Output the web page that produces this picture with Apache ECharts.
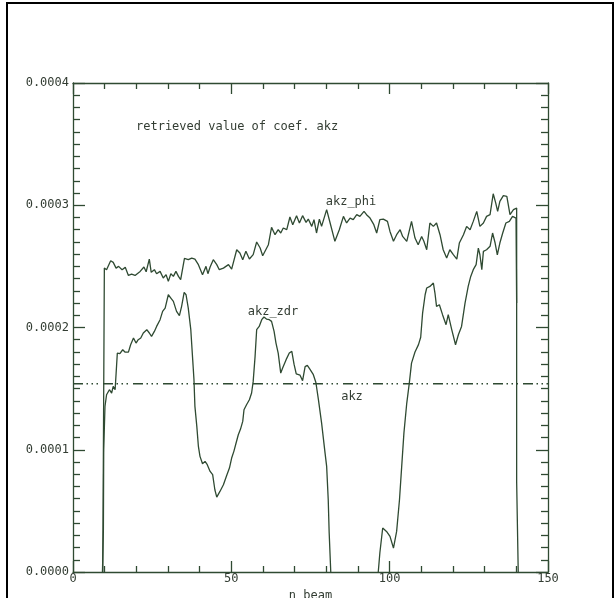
<!DOCTYPE html>
<html>
<head>
<meta charset="utf-8">
<script src="https://cdn.jsdelivr.net/npm/echarts@6/dist/echarts.min.js"></script>
<style>html,body{margin:0;padding:0;background:#fff}#c{width:615px;height:598px}</style>
</head>
<body>
<div id="c"></div>
<script>
// values in units of 1e-4
const SCALE = 1e-4;
const xTicks = [0, 50, 100, 150];
const yTicks = [0, 0.0001, 0.0002, 0.0003, 0.0004];

const phiBeam = [9.4,9.9,10.6,11.9,12.7,13.6,14.4,15.5,16.5,17.5,18.5,19.6,21.2,22.4,23.1,24.1,24.7,25.7,26.4,27.5,28.5,29.4,30.1,30.9,31.7,32.5,33.3,34.0,35.2,36.4,37.5,38.5,39.6,40.9,42.0,42.6,43.3,44.3,45.4,46.2,47.5,49.1,50.1,51.7,52.7,53.6,54.6,55.7,56.9,58.0,59.1,59.9,61.7,62.7,63.8,64.8,65.6,66.4,67.5,68.5,69.4,70.6,71.5,72.5,73.6,74.3,75.4,76.1,76.9,77.8,78.5,80.1,81.2,82.7,84.1,85.4,86.4,87.5,88.5,89.6,90.6,91.9,92.7,93.8,95.0,95.9,96.9,98.0,99.3,100.1,101.2,102.2,103.3,104.1,105.4,106.9,108.0,109.0,110.1,110.8,111.7,112.7,113.8,114.8,115.9,116.9,118.0,119.0,120.1,121.2,122.0,123.3,124.3,125.4,126.4,127.5,128.5,129.6,130.6,131.7,132.7,133.5,134.1,134.8,135.9,137.0,138.0,139.1,140.1,140.1,140.6];
const phiVal = [0,2.486,2.473,2.546,2.533,2.486,2.500,2.473,2.492,2.426,2.437,2.426,2.459,2.495,2.456,2.560,2.451,2.473,2.440,2.459,2.405,2.432,2.377,2.440,2.418,2.459,2.418,2.391,2.565,2.555,2.568,2.560,2.514,2.432,2.500,2.440,2.495,2.555,2.514,2.473,2.486,2.514,2.478,2.636,2.609,2.555,2.623,2.560,2.596,2.699,2.650,2.587,2.677,2.819,2.759,2.800,2.773,2.814,2.800,2.904,2.841,2.915,2.855,2.915,2.860,2.887,2.827,2.882,2.773,2.887,2.827,2.964,2.855,2.705,2.800,2.909,2.855,2.895,2.882,2.923,2.909,2.950,2.923,2.895,2.841,2.773,2.882,2.887,2.868,2.786,2.705,2.759,2.800,2.745,2.705,2.868,2.732,2.677,2.745,2.705,2.636,2.855,2.827,2.855,2.759,2.636,2.568,2.636,2.596,2.560,2.691,2.759,2.827,2.800,2.868,2.950,2.827,2.855,2.909,2.923,3.094,3.018,2.950,3.032,3.078,3.073,2.923,2.964,2.977,0.74,0];

const zdrBeam = [9.3,9.6,9.7,10.1,10.6,11.5,12.2,12.7,13.3,14.0,14.8,15.7,16.4,17.5,18.2,19.1,19.9,20.6,21.4,22.2,23.3,24.1,24.8,25.7,26.4,27.5,28.3,29.1,30.1,30.9,31.7,32.7,33.6,34.3,35.1,35.7,36.4,37.2,37.8,38.2,38.5,39.1,39.6,40.1,40.9,41.7,42.4,43.3,44.1,44.8,45.4,46.4,47.5,48.5,49.4,50.1,50.8,51.5,52.2,52.9,53.6,54.0,54.8,55.7,56.4,56.9,57.5,58.0,58.8,59.6,60.3,61.1,62.0,62.7,63.5,64.1,64.8,65.6,66.2,67.3,68.3,69.1,69.8,70.5,71.7,72.5,73.3,74.0,74.8,75.9,76.7,77.5,78.5,79.6,80.1,80.6,80.9,81.4,88.0,96.4,96.9,97.8,99.0,100.1,101.2,102.2,103.1,103.8,104.5,105.4,106.2,106.9,108.0,109.1,109.8,110.4,111.2,111.7,112.7,113.8,114.3,114.8,115.7,116.7,117.8,118.5,119.6,120.8,121.7,122.7,123.8,124.8,125.6,126.4,127.3,128.0,128.5,129.1,129.6,130.6,131.7,132.5,133.3,134.0,134.8,135.7,136.7,137.8,138.8,139.9,140.1];
const zdrVal = [0,0.35,1.0,1.355,1.45,1.491,1.464,1.518,1.491,1.791,1.786,1.818,1.799,1.799,1.859,1.914,1.873,1.900,1.914,1.955,1.982,1.955,1.927,1.968,2.009,2.064,2.132,2.159,2.268,2.241,2.214,2.132,2.097,2.173,2.287,2.268,2.159,1.982,1.737,1.573,1.355,1.191,1.027,0.946,0.886,0.905,0.878,0.823,0.796,0.673,0.613,0.659,0.714,0.788,0.850,0.932,0.987,1.055,1.123,1.169,1.232,1.327,1.368,1.409,1.464,1.559,1.764,1.982,2.009,2.064,2.086,2.069,2.064,2.050,1.968,1.873,1.791,1.627,1.668,1.737,1.791,1.805,1.70,1.62,1.61,1.565,1.68,1.69,1.66,1.614,1.55,1.41,1.22,0.973,0.864,0.591,0.319,0,null,0,0.155,0.36,0.332,0.291,0.196,0.332,0.591,0.864,1.136,1.382,1.545,1.709,1.80,1.86,1.92,2.118,2.268,2.323,2.336,2.364,2.282,2.173,2.186,2.105,2.023,2.105,1.982,1.859,1.941,2.009,2.200,2.336,2.418,2.473,2.514,2.650,2.595,2.473,2.623,2.636,2.664,2.773,2.691,2.595,2.691,2.773,2.855,2.868,2.909,2.895,2.2];

const akzRange = [0, 150];
const akzVal = 1.54;

const LINE = '#2f4a32';
const TEXT = '#333d33';
const FONT = '"DejaVu Sans Mono", monospace';

function pairs(xs, ys) {
  return xs.map((x, i) => [x, ys[i] === null ? null : ys[i] * SCALE]);
}

const chart = echarts.init(document.getElementById('c'), null, {renderer: 'canvas'});

const axisCommon = {
  type: 'value',
  axisLine: {show: true, onZero: false, lineStyle: {color: LINE, width: 1.3}},
  splitLine: {show: false},
};

chart.setOption({
  animation: false,
  backgroundColor: '#fff',
  grid: {left: 73, top: 83, width: 475, height: 489, containLabel: false, outerBoundsMode: 'none'},
  xAxis: [
    Object.assign({}, axisCommon, {
      position: 'bottom', min: xTicks[0], max: xTicks[xTicks.length - 1], interval: 50,
      axisTick: {show: true, inside: true, length: 11, lineStyle: {color: LINE, width: 1.3}},
      minorTick: {show: true, splitNumber: 5, length: 6, lineStyle: {color: LINE, width: 1.3}},
      axisLabel: {show: true, margin: 1, color: TEXT, fontFamily: FONT, fontSize: 12},
      name: 'n beam', nameLocation: 'middle', nameGap: 10,
      nameTextStyle: {color: TEXT, fontFamily: FONT, fontSize: 12}
    }),
    Object.assign({}, axisCommon, {
      position: 'top', min: 0, max: 150, interval: 50,
      axisTick: {show: true, inside: true, length: 11, lineStyle: {color: LINE, width: 1.3}},
      minorTick: {show: true, splitNumber: 5, length: 6, lineStyle: {color: LINE, width: 1.3}},
      axisLabel: {show: false}
    })
  ],
  yAxis: [
    Object.assign({}, axisCommon, {
      position: 'left', min: yTicks[0], max: yTicks[yTicks.length - 1], interval: 0.0001,
      axisTick: {show: true, inside: true, length: 12, lineStyle: {color: LINE, width: 1.3}},
      minorTick: {show: true, splitNumber: 10, length: 7, lineStyle: {color: LINE, width: 1.3}},
      axisLabel: {show: true, margin: 4, color: TEXT, fontFamily: FONT, fontSize: 12,
        formatter: v => v.toFixed(4)}
    }),
    Object.assign({}, axisCommon, {
      position: 'right', min: 0, max: 0.0004, interval: 0.0001,
      axisTick: {show: true, inside: true, length: 12, lineStyle: {color: LINE, width: 1.3}},
      minorTick: {show: true, splitNumber: 10, length: 7, lineStyle: {color: LINE, width: 1.3}},
      axisLabel: {show: false}
    })
  ],
  series: [
    {name: 'akz_phi', type: 'line', data: pairs(phiBeam, phiVal), showSymbol: false, symbol: 'none',
     lineStyle: {color: LINE, width: 1.3}, connectNulls: false, clip: true},
    {name: 'akz_zdr', type: 'line', data: pairs(zdrBeam, zdrVal), showSymbol: false, symbol: 'none',
     lineStyle: {color: LINE, width: 1.3}, connectNulls: false, clip: true},
    {name: 'akz', type: 'line', data: pairs(akzRange, [akzVal, akzVal]), showSymbol: false, symbol: 'none',
     lineStyle: {color: LINE, width: 1.3, type: [10, 3.5, 1.5, 3.5, 1.5, 3.5, 1.5, 5]}, clip: true}
  ],
  graphic: [
    {type: 'rect', shape: {x: 7, y: 3, width: 606, height: 604}, style: {fill: 'none', stroke: '#000', lineWidth: 2}, silent: true},
    {type: 'text', x: 136, y: 127, style: {text: 'retrieved value of coef. akz', fill: TEXT, font: '12px ' + FONT, textVerticalAlign: 'middle'}},
    {type: 'text', x: 351, y: 202, style: {text: 'akz_phi', fill: TEXT, font: '12px ' + FONT, textAlign: 'center', textVerticalAlign: 'middle'}},
    {type: 'text', x: 273, y: 312, style: {text: 'akz_zdr', fill: TEXT, font: '12px ' + FONT, textAlign: 'center', textVerticalAlign: 'middle'}},
    {type: 'text', x: 352, y: 397, style: {text: 'akz', fill: TEXT, font: '12px ' + FONT, textAlign: 'center', textVerticalAlign: 'middle'}}
  ]
});
</script>
</body>
</html>
